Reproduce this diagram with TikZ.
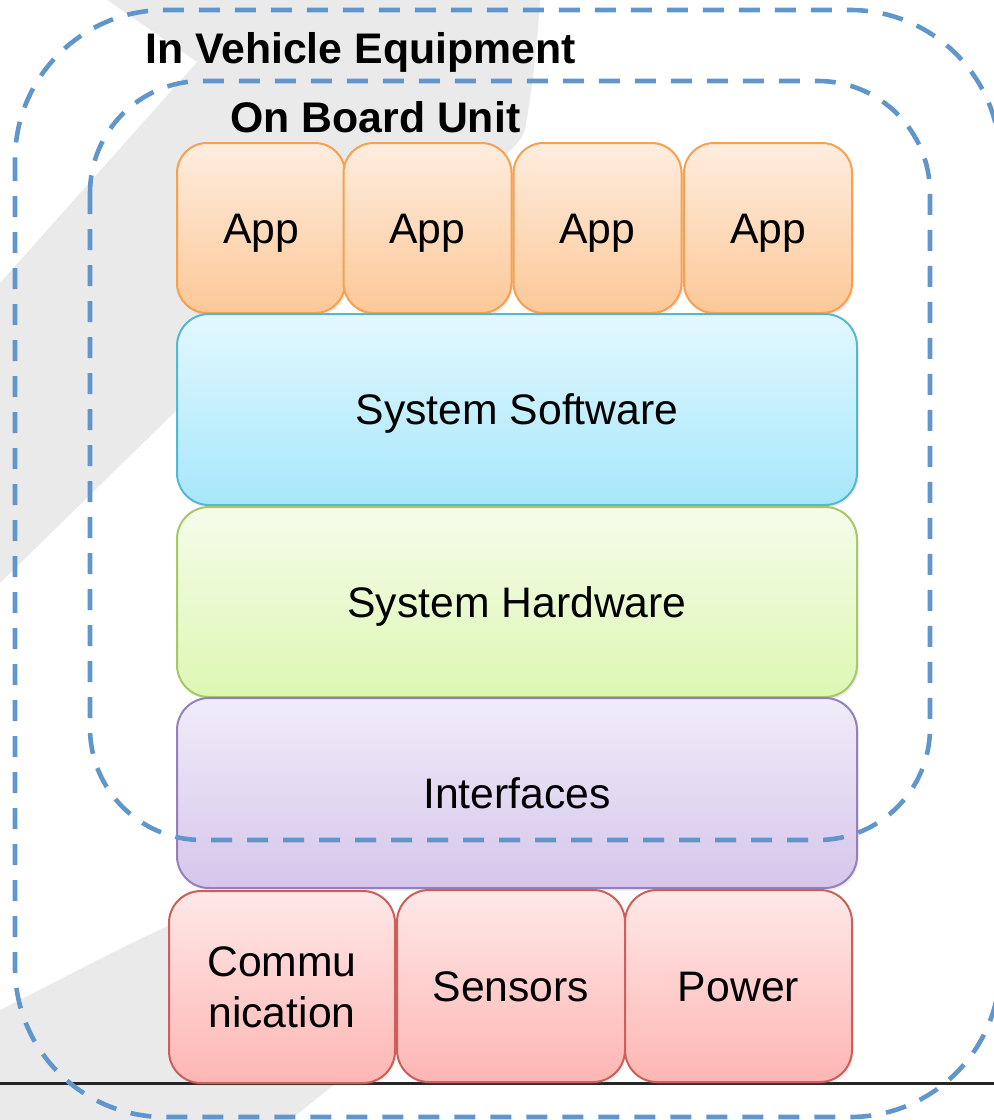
\documentclass[tikz,border=0pt]{standalone}
\usepackage{fontspec}
\setmainfont{Liberation Sans}
\usetikzlibrary{shadows}
\definecolor{bggray}{RGB}{234,234,234}
\definecolor{dashblue}{HTML}{6096CB}
\definecolor{appline}{HTML}{F6A050}
\definecolor{apptop}{HTML}{FEEDDF}
\definecolor{appbot}{HTML}{FCC897}
\definecolor{swline}{HTML}{55B7D0}
\definecolor{swtop}{HTML}{E3F8FE}
\definecolor{swbot}{HTML}{A6E7FB}
\definecolor{hwline}{HTML}{A6C866}
\definecolor{hwtop}{HTML}{F5FCEA}
\definecolor{hwbot}{HTML}{DDF7B2}
\definecolor{ifline}{HTML}{9680BB}
\definecolor{iftop}{HTML}{F0ECF9}
\definecolor{ifbot}{HTML}{D6C6EB}
\definecolor{rdline}{HTML}{CC5F5A}
\definecolor{rdtop}{HTML}{FEE8E8}
\definecolor{rdbot}{HTML}{FDB6B3}
\tikzset{
  layerbox/.style={draw, line width=2pt, rounded corners=32pt, inner sep=0pt,
    text height=30.5pt, text depth=0pt, font=\fontsize{42.7}{51}\selectfont,
    drop shadow={opacity=0.15, shadow xshift=1.5pt, shadow yshift=-2.5pt}},
  appbox/.style={layerbox, rounded corners=30pt, draw=appline, top color=apptop, bottom color=appbot,
    minimum width=168pt, minimum height=170pt},
  widebox/.style={layerbox, minimum width=680pt, minimum height=190pt},
  swbox/.style={widebox, draw=swline, top color=swtop, bottom color=swbot},
  hwbox/.style={widebox, draw=hwline, top color=hwtop, bottom color=hwbot},
  ifbox/.style={widebox, draw=ifline, top color=iftop, bottom color=ifbot},
  redbox/.style={layerbox, draw=rdline, top color=rdtop, bottom color=rdbot, minimum height=192pt},
  groupline/.style={draw=dashblue, line width=4.6pt, dash pattern=on 21pt off 15pt},
  grouptitle/.style={anchor=base west, inner sep=0pt, font=\fontsize{42.8}{51}\selectfont\bfseries},
}
\begin{document}
\begin{tikzpicture}[x=1pt,y=-1pt]
\useasboundingbox (0,0) rectangle (994,1120);
\clip (0,0) rectangle (994,1120);
% background decoration
\fill[bggray] (107,0) -- (197,62) -- (0,283) -- (0,583) -- (180,407)
  .. controls (350,240) and (515,170) .. (525,130)
  .. controls (532,90) and (538,40) .. (540,0) -- cycle;
\fill[bggray] (0,1010) .. controls (60,980) and (115,950) .. (170,925)
  -- (300,900) -- (360,1064) -- (290,1120) -- (0,1120) -- cycle;
% ground line
\coordinate (gl) at (0,1083.5);
\coordinate (gr) at (994,1083.5);
\draw[line width=2.2pt, black!85] (gl) -- (gr);
% layers
\node[appbox] (app1) at (261,228) {App};
\node[appbox] (app2) at (427.5,228) {App};
\node[appbox] (app3) at (597.5,228) {App};
\node[appbox] (app4) at (768,228) {App};
\node[swbox, minimum height=191pt] (sw) at (517,409.5) {System Software};
\node[hwbox] (hw) at (517,602) {System Hardware};
\node[ifbox] (if) at (517,793) {Interfaces};
\node[redbox, minimum width=226pt, text height=, text depth=, align=center] (comm) at (282,987) {Commu\\nication};
\node[redbox, minimum width=228pt] (sens) at (511,986) {Sensors};
\node[redbox, minimum width=227pt] (pow) at (738.5,986) {Power};
% groups
\draw[groupline, rounded corners=150pt] (15,10) rectangle (1000,1117);
\draw[groupline, rounded corners=112pt] (90,81) rectangle (930,840);
\node[grouptitle] (ive) at (145,63) {In Vehicle Equipment};
\node[grouptitle] (obu) at (230,132) {On Board Unit};
\end{tikzpicture}
\end{document}
